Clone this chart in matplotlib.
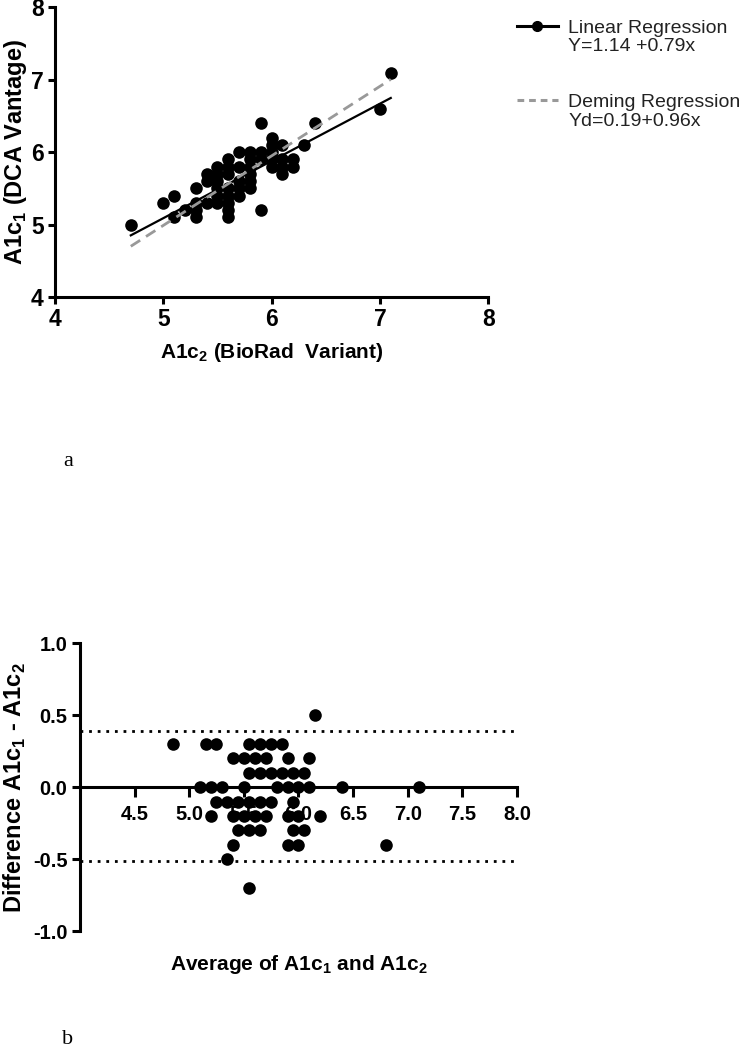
import matplotlib
matplotlib.use("Agg")
import matplotlib.pyplot as plt
from matplotlib.lines import Line2D
from matplotlib.ticker import FixedLocator, FixedFormatter

plt.rcParams["font.family"] = "Liberation Sans"
plt.rcParams["font.weight"] = "bold"
plt.rcParams["axes.labelweight"] = "bold"
plt.rcParams["mathtext.fontset"] = "custom"
plt.rcParams["mathtext.rm"] = "Liberation Sans:bold"
plt.rcParams["axes.unicode_minus"] = False

# panel a: A1c2 (BioRad Variant) vs A1c1 (DCA Vantage)
a1c2 = [5.9,
        4.7, 5.0, 5.1, 5.4, 5.5, 5.6, 5.7,
        5.3, 5.4, 5.5, 5.6, 5.8, 6.0,
        5.5, 5.6, 5.7, 5.8, 5.9, 6.0,
        5.1, 5.2, 5.3, 5.5, 5.8, 5.9, 6.0, 6.1, 6.4, 7.1,
        5.3, 5.4, 5.5, 5.6, 5.7, 5.8, 6.0,
        5.3, 5.5, 5.6, 5.7, 5.8, 6.0, 6.1, 6.3,
        5.6, 5.7, 5.8, 6.1, 6.2,
        5.6, 6.1, 6.2, 7.0,
        5.6,
        5.9]
a1c1 = [6.4,
        5.0, 5.3, 5.4, 5.7, 5.8, 5.9, 6.0,
        5.5, 5.6, 5.7, 5.8, 6.0, 6.2,
        5.6, 5.7, 5.8, 5.9, 6.0, 6.1,
        5.1, 5.2, 5.3, 5.5, 5.8, 5.9, 6.0, 6.1, 6.4, 7.1,
        5.2, 5.3, 5.4, 5.5, 5.6, 5.7, 5.9,
        5.1, 5.3, 5.4, 5.5, 5.6, 5.8, 5.9, 6.1,
        5.3, 5.4, 5.5, 5.8, 5.9,
        5.2, 5.7, 5.8, 6.6,
        5.1,
        5.2]
lin_icpt, lin_slope = 1.14, 0.79
dem_icpt, dem_slope = 0.19, 0.96
fit_range = [4.7, 7.1]

# panel b: Bland-Altman
ba_mean = [6.15,
           4.85, 5.15, 5.25, 5.55, 5.65, 5.75, 5.85,
           5.4, 5.5, 5.6, 5.7, 5.9, 6.1,
           5.55, 5.65, 5.75, 5.85, 5.95, 6.05,
           5.1, 5.2, 5.3, 5.5, 5.8, 5.9, 6.0, 6.1, 6.4, 7.1,
           5.25, 5.35, 5.45, 5.55, 5.65, 5.75, 5.95,
           5.2, 5.4, 5.5, 5.6, 5.7, 5.9, 6.0, 6.2,
           5.45, 5.55, 5.65, 5.95, 6.05,
           5.4, 5.9, 6.0, 6.8,
           5.35,
           5.55]
ba_diff = [0.5,
           0.3, 0.3, 0.3, 0.3, 0.3, 0.3, 0.3,
           0.2, 0.2, 0.2, 0.2, 0.2, 0.2,
           0.1, 0.1, 0.1, 0.1, 0.1, 0.1,
           0.0, 0.0, 0.0, 0.0, 0.0, 0.0, 0.0, 0.0, 0.0, 0.0,
           -0.1, -0.1, -0.1, -0.1, -0.1, -0.1, -0.1,
           -0.2, -0.2, -0.2, -0.2, -0.2, -0.2, -0.2, -0.2,
           -0.3, -0.3, -0.3, -0.3, -0.3,
           -0.4, -0.4, -0.4, -0.4,
           -0.5,
           -0.7]
loa_upper, loa_lower = 0.39, -0.51

fig = plt.figure(figsize=(7.47, 10.5), dpi=100)

# ---- panel a
ax1 = fig.add_axes([0.0736, 0.717, 0.580, 0.276])
ax1.scatter(a1c2, a1c1, s=82, color="black", linewidths=0, zorder=2)
ax1.plot(fit_range, [lin_icpt + lin_slope * v for v in fit_range], color="black", lw=1.6, zorder=3)
ax1.plot(fit_range, [dem_icpt + dem_slope * v for v in fit_range], color="#999999", lw=2,
         dashes=(4, 2.5), zorder=3)
ax1.set_xlim(4, 8)
ax1.set_ylim(4, 8)
ax1.set_xticks([4, 5, 6, 7, 8])
ax1.set_yticks([4, 5, 6, 7, 8])
ax1.spines["top"].set_visible(False)
ax1.spines["right"].set_visible(False)
for sp in ["left", "bottom"]:
    ax1.spines[sp].set_linewidth(2.2)
ax1.tick_params(width=2.2, length=5, labelsize=16.5, pad=3)
ax1.set_xlabel(r"A1c$_2$ (BioRad  Variant)", fontsize=15)
ax1.set_ylabel(r"A1c$_1$ (DCA Vantage)", fontsize=17)
ax1.xaxis.set_label_coords(0.5, -0.152)
ax1.yaxis.set_label_coords(-0.06, 0.5)

h_lin = Line2D([], [], color="black", lw=2.2, marker="o", markersize=7)
h_dem = Line2D([], [], color="#999999", lw=2.2, dashes=(2.2, 1.6))
h_none = Line2D([], [], color="none")
leg_kw = dict(frameon=False, loc="upper left", handlelength=2.1,
              handletextpad=0.55, labelspacing=0.05, borderpad=0, borderaxespad=0,
              prop={"weight": "normal", "size": 14})
leg1 = fig.legend([h_lin, h_none], ["Linear Regression", "Y=1.14 +0.79x"],
                  bbox_to_anchor=(0.692, 0.982), **leg_kw)
leg2 = fig.legend([h_dem, h_none], ["Deming Regression", "Yd=0.19+0.96x"],
                  bbox_to_anchor=(0.692, 0.911), **leg_kw)
for leg in (leg1, leg2):
    for t in leg.get_texts():
        t.set_color("#222222")

fig.text(0.091, 1 - 462 / 1050, "a", family="Liberation Serif", weight="normal",
         fontsize=16, ha="center", va="center")

# ---- panel b
ax2 = fig.add_axes([0.107, 0.1133, 0.585, 0.274])
ax2.scatter(ba_mean, ba_diff, s=82, color="black", linewidths=0, zorder=3)
ax2.axhline(loa_upper, color="black", lw=2, ls=(0, (1, 2.1)), zorder=2)
ax2.axhline(loa_lower, color="black", lw=2, ls=(0, (1, 2.1)), zorder=2)
ax2.set_xlim(4, 8)
ax2.set_ylim(-1, 1)
ax2.spines["top"].set_visible(False)
ax2.spines["right"].set_visible(False)
ax2.spines["bottom"].set_position(("data", 0))
for sp in ["left", "bottom"]:
    ax2.spines[sp].set_linewidth(2.2)
xt = [4.5, 5.0, 5.5, 6.0, 6.5, 7.0, 7.5, 8.0]
ax2.xaxis.set_major_locator(FixedLocator(xt))
ax2.xaxis.set_major_formatter(FixedFormatter([f"{v:.1f}" for v in xt]))
yt = [-1.0, -0.5, 0.0, 0.5, 1.0]
ax2.yaxis.set_major_locator(FixedLocator(yt))
ax2.yaxis.set_major_formatter(FixedFormatter([f"{v:.1f}" for v in yt]))
ax2.tick_params(axis="x", width=2.2, length=7, labelsize=14.5, pad=6)
ax2.tick_params(axis="y", width=2.2, length=6, labelsize=14.5, pad=3)
ax2.set_xlabel(r"Average of A1c$_1$ and A1c$_2$", fontsize=15)
ax2.set_ylabel(r"Difference A1c$_1$ - A1c$_2$", fontsize=17)
ax2.xaxis.set_label_coords(0.5, -0.075)
ax2.yaxis.set_label_coords(-0.119, 0.5)

fig.text(0.091, 1 - 1040 / 1050, "b", family="Liberation Serif", weight="normal",
         fontsize=16, ha="center", va="center")

fig.savefig("out.png", dpi=100)
